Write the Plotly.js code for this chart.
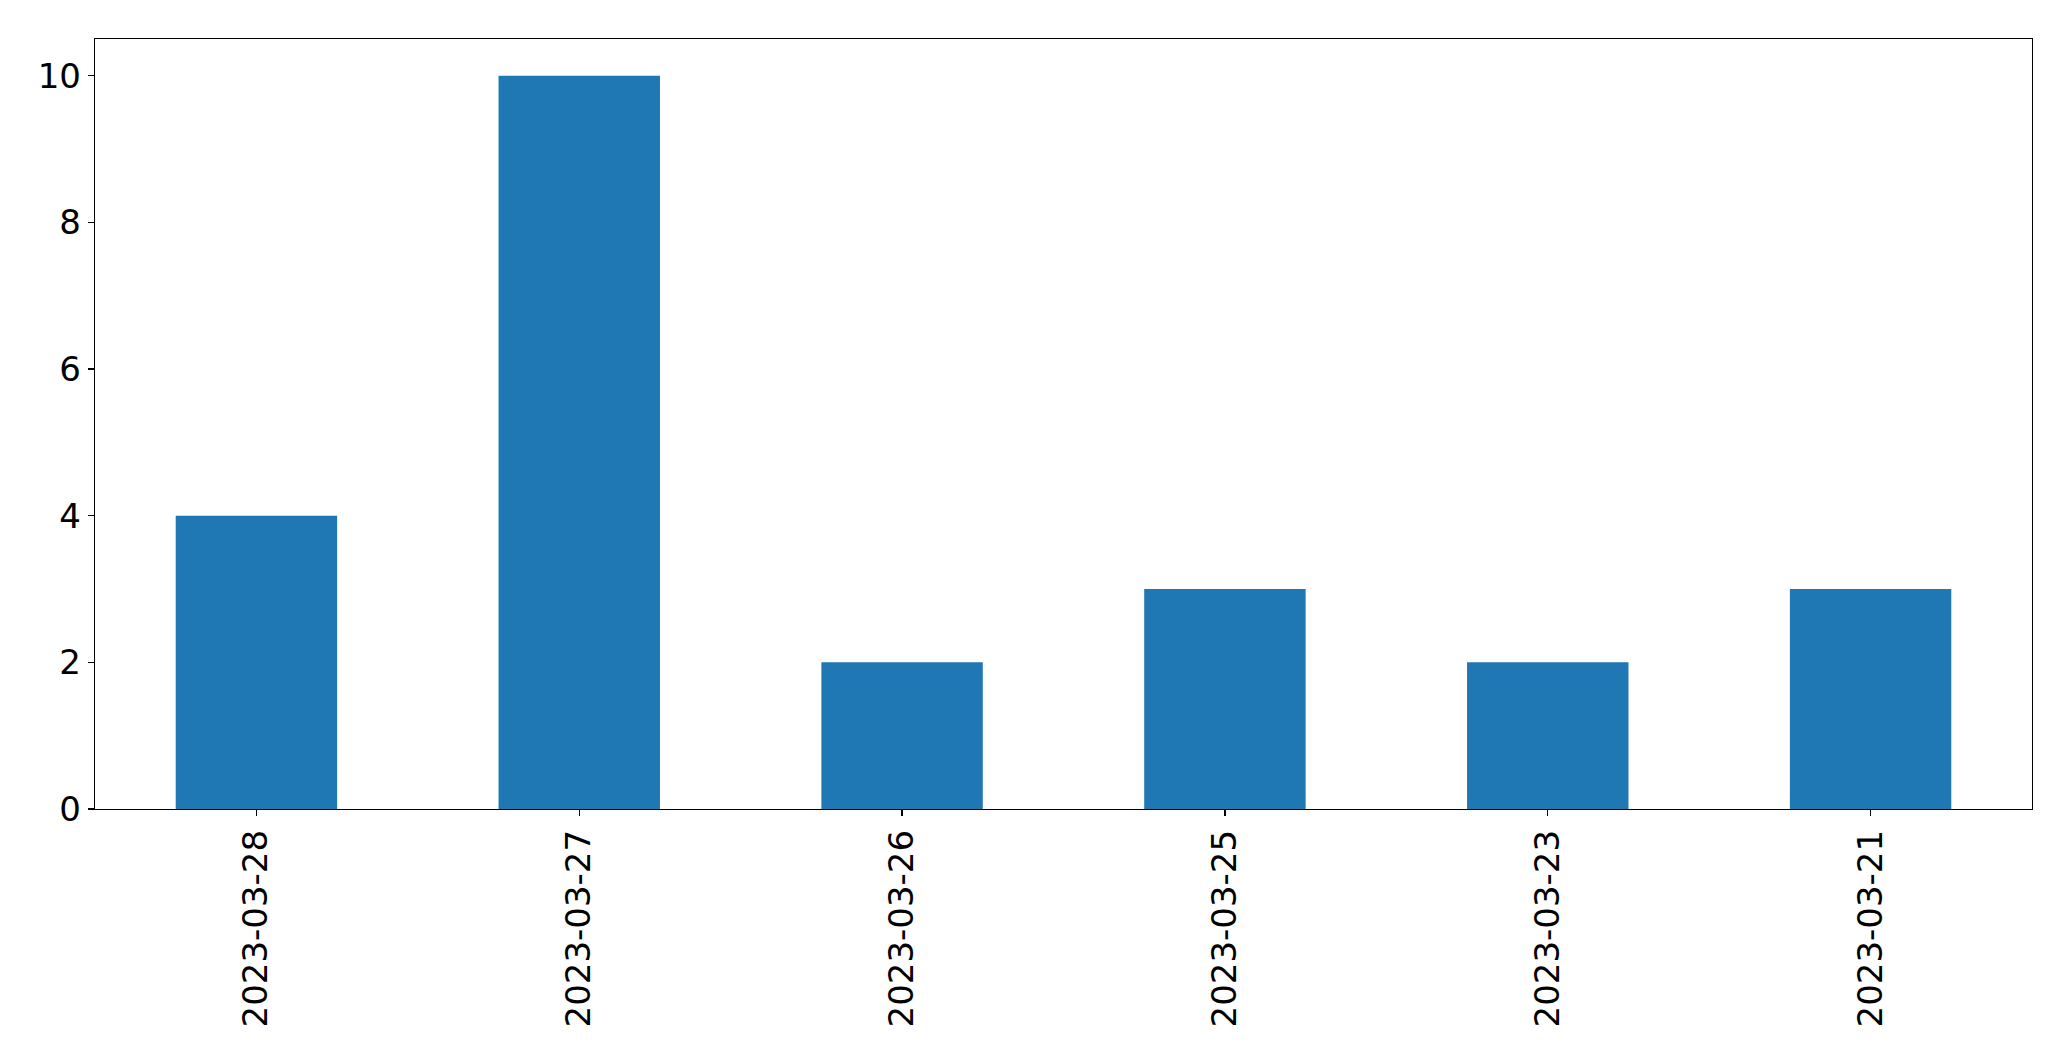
<!DOCTYPE html>
<html>
<head>
<meta charset="utf-8">
<script src="https://cdn.plot.ly/plotly-3.0.1.min.js"></script>
<style>html,body{margin:0;padding:0;background:#fff;}#chart{width:2071px;height:1061px;}</style>
</head>
<body>
<div id="chart"></div>
<script>
const categories = ["2023-03-28", "2023-03-27", "2023-03-26", "2023-03-25", "2023-03-23", "2023-03-21"];
const counts = [4, 10, 2, 3, 2, 3];
const yTicks = [0, 2, 4, 6, 8, 10];

const trace = {
  type: "bar",
  x: categories,
  y: counts,
  width: 0.5,
  marker: {color: "#1f77b4", line: {width: 0}},
  hoverinfo: "x+y"
};

const layout = {
  width: 2071,
  height: 1061,
  margin: {l: 95, r: 39, t: 39, b: 252, pad: 0},
  paper_bgcolor: "#fff",
  plot_bgcolor: "#fff",
  font: {family: "DejaVu Sans, sans-serif", size: 34, color: "#000"},
  showlegend: false,
  bargap: 0.5,
  xaxis: {
    type: "category",
    range: [-0.5, 5.5],
    showgrid: false,
    zeroline: false,
    showline: true,
    linecolor: "#000",
    linewidth: 1.3,
    mirror: true,
    ticks: "outside",
    ticklen: 6,
    tickwidth: 1.3,
    tickcolor: "#000",
    tickangle: -90,
    tickfont: {family: "DejaVu Sans, sans-serif", size: 34, color: "#000"}
  },
  yaxis: {
    range: [0, 10.5],
    tickvals: yTicks,
    ticktext: yTicks.map(String),
    showgrid: false,
    zeroline: false,
    showline: true,
    linecolor: "#000",
    linewidth: 1.3,
    mirror: true,
    ticks: "outside",
    ticklen: 6,
    tickwidth: 1.3,
    tickcolor: "#000",
    tickfont: {family: "DejaVu Sans, sans-serif", size: 34, color: "#000"}
  }
};

Plotly.newPlot("chart", [trace], layout, {displayModeBar: false, staticPlot: true});
</script>
</body>
</html>
